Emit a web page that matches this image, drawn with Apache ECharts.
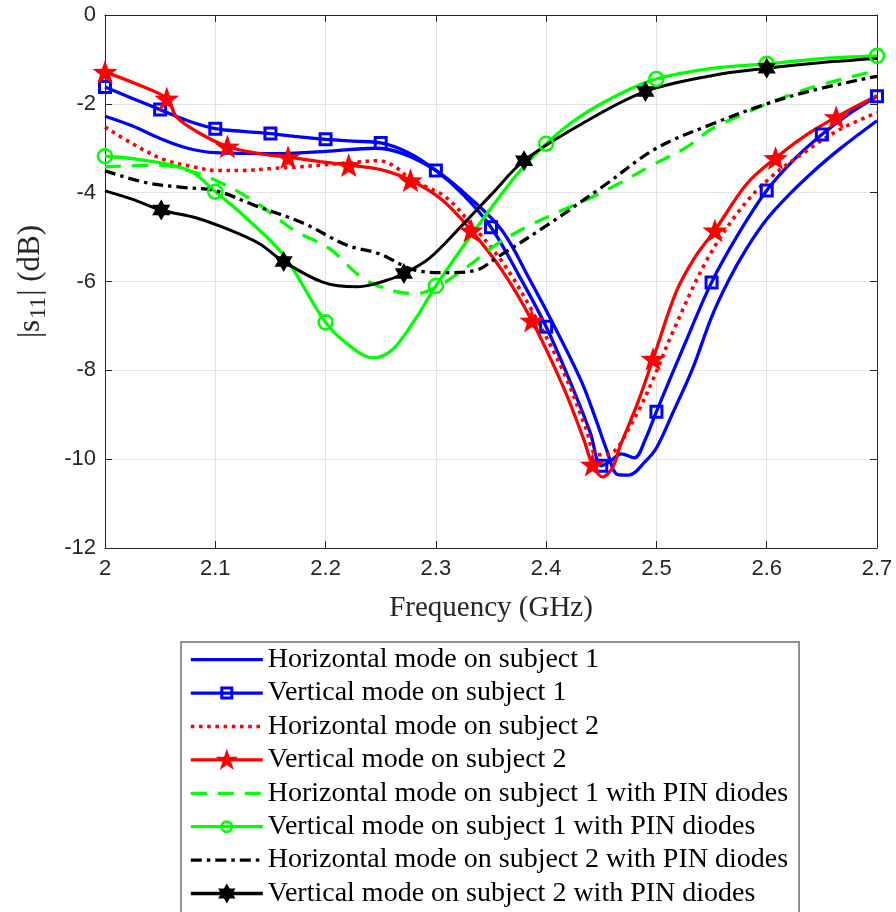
<!DOCTYPE html>
<html>
<head>
<meta charset="utf-8">
<script src="https://cdn.jsdelivr.net/npm/echarts@6/dist/echarts.min.js"></script>
<style>
  html, body { margin: 0; padding: 0; background: #ffffff; }
  #chart { width: 896px; height: 912px; }
</style>
</head>
<body>
<div id="chart"></div>
<script>
// Axis ranges and ticks
const xMin = 2.0, xMax = 2.7, xStep = 0.1;
const yMin = -12, yMax = 0, yStep = 2;

// Series names (legend order)
const names = [
  'Horizontal mode on subject 1',
  'Vertical mode on subject 1',
  'Horizontal mode on subject 2',
  'Vertical mode on subject 2',
  'Horizontal mode on subject 1 with PIN diodes',
  'Vertical mode on subject 1 with PIN diodes',
  'Horizontal mode on subject 2 with PIN diodes',
  'Vertical mode on subject 2 with PIN diodes'
];

// Horizontal mode on subject 1
const freqH1 = [2.00, 2.025, 2.05, 2.075, 2.10, 2.15, 2.20, 2.245, 2.27, 2.30, 2.33, 2.36, 2.385, 2.41, 2.432, 2.445, 2.455, 2.465, 2.475, 2.49, 2.50, 2.515, 2.533, 2.55, 2.566, 2.582, 2.60, 2.62, 2.641, 2.666, 2.70];
const dbH1 = [-2.28, -2.5, -2.78, -3.0, -3.1, -3.12, -3.07, -3.0, -3.12, -3.5, -4.1, -4.85, -5.95, -7.13, -8.25, -9.1, -9.8, -10.35, -10.36, -10.05, -9.75, -8.95, -7.95, -6.8, -5.95, -5.25, -4.6, -4.05, -3.55, -3.02, -2.38];

// Vertical mode on subject 1
const freqV1 = [2.00, 2.025, 2.05, 2.075, 2.10, 2.125, 2.15, 2.175, 2.20, 2.225, 2.25, 2.275, 2.30, 2.325, 2.35, 2.375, 2.40, 2.425, 2.44, 2.45, 2.458, 2.468, 2.48, 2.49, 2.50, 2.525, 2.55, 2.575, 2.60, 2.625, 2.65, 2.675, 2.70];
const dbV1 = [-1.62, -1.88, -2.13, -2.38, -2.56, -2.62, -2.67, -2.74, -2.8, -2.84, -2.88, -3.1, -3.5, -4.05, -4.78, -5.85, -7.02, -8.45, -9.4, -10.15, -10.05, -9.88, -9.97, -9.55, -8.93, -7.45, -6.02, -4.9, -3.95, -3.25, -2.69, -2.22, -1.83];
const marksV1 = [2.00, 2.05, 2.10, 2.15, 2.20, 2.25, 2.30, 2.35, 2.40, 2.45, 2.50, 2.55, 2.60, 2.65, 2.70];

// Horizontal mode on subject 2
const freqH2 = [2.00, 2.025, 2.053, 2.08, 2.101, 2.125, 2.149, 2.175, 2.20, 2.225, 2.248, 2.262, 2.275, 2.29, 2.309, 2.33, 2.36, 2.387, 2.416, 2.436, 2.446, 2.458, 2.466, 2.473, 2.485, 2.497, 2.515, 2.545, 2.575, 2.603, 2.636, 2.666, 2.70];
const dbH2 = [-2.52, -2.9, -3.25, -3.42, -3.5, -3.5, -3.46, -3.42, -3.37, -3.32, -3.28, -3.4, -3.65, -3.85, -4.1, -4.65, -5.55, -6.65, -8.05, -9.3, -9.9, -9.88, -9.7, -9.4, -8.85, -8.2, -7.13, -5.55, -4.41, -3.67, -3.06, -2.58, -2.2];

// Vertical mode on subject 2
const freqV2 = [2.000, 2.028, 2.056, 2.065, 2.085, 2.111, 2.14, 2.166, 2.195, 2.221, 2.25, 2.277, 2.305, 2.332, 2.36, 2.387, 2.416, 2.434, 2.442, 2.451, 2.46, 2.467, 2.482, 2.497, 2.518, 2.535, 2.553, 2.582, 2.608, 2.636, 2.663, 2.70];
const dbV2 = [-1.28, -1.55, -1.88, -2.3, -2.65, -2.96, -3.12, -3.2, -3.3, -3.38, -3.48, -3.72, -4.15, -4.85, -5.75, -6.88, -8.4, -9.55, -10.12, -10.4, -10.2, -9.71, -8.8, -7.74, -6.23, -5.45, -4.85, -3.8, -3.22, -2.7, -2.3, -1.82];
const marksV2 = [2.000, 2.056, 2.111, 2.166, 2.221, 2.277, 2.332, 2.387, 2.442, 2.497, 2.553, 2.608, 2.663];

// Horizontal mode on subject 1 with PIN diodes
const freqH1P = [2.00, 2.05, 2.075, 2.101, 2.135, 2.173, 2.203, 2.234, 2.264, 2.282, 2.303, 2.33, 2.354, 2.38, 2.416, 2.44, 2.47, 2.497, 2.527, 2.551, 2.582, 2.60, 2.641, 2.70];
const dbH1P = [-3.42, -3.38, -3.5, -3.73, -4.19, -4.87, -5.25, -5.93, -6.23, -6.27, -6.09, -5.64, -5.18, -4.8, -4.38, -4.12, -3.74, -3.37, -2.98, -2.55, -2.2, -2.0, -1.63, -1.25];

// Vertical mode on subject 1 with PIN diodes
const freqV1P = [2.00, 2.03, 2.06, 2.08, 2.10, 2.128, 2.162, 2.20, 2.222, 2.243, 2.26, 2.28, 2.30, 2.325, 2.35, 2.375, 2.40, 2.43, 2.465, 2.50, 2.55, 2.60, 2.65, 2.70];
const dbV1P = [-3.18, -3.25, -3.38, -3.55, -3.98, -4.57, -5.41, -6.92, -7.45, -7.72, -7.55, -6.9, -6.1, -5.2, -4.35, -3.55, -2.9, -2.3, -1.8, -1.44, -1.2, -1.1, -0.98, -0.92];
const marksV1P = [2.0, 2.1, 2.2, 2.3, 2.4, 2.5, 2.6, 2.7];

// Horizontal mode on subject 2 with PIN diodes
const freqH2P = [2.00, 2.038, 2.07, 2.101, 2.135, 2.18, 2.219, 2.248, 2.282, 2.309, 2.336, 2.356, 2.401, 2.452, 2.50, 2.551, 2.60, 2.641, 2.70];
const dbH2P = [-3.51, -3.78, -3.88, -3.96, -4.28, -4.69, -5.18, -5.37, -5.75, -5.8, -5.75, -5.45, -4.73, -3.85, -3.0, -2.45, -2.0, -1.7, -1.38];

// Vertical mode on subject 2 with PIN diodes
const freqV2P = [2.00, 2.025, 2.051, 2.083, 2.113, 2.14, 2.162, 2.198, 2.228, 2.252, 2.271, 2.294, 2.324, 2.35, 2.38, 2.431, 2.49, 2.551, 2.60, 2.65, 2.70];
const dbV2P = [-3.96, -4.15, -4.39, -4.57, -4.84, -5.15, -5.55, -6.02, -6.12, -6.0, -5.82, -5.48, -4.73, -4.05, -3.28, -2.47, -1.72, -1.36, -1.2, -1.07, -0.98];
const marksV2P = [2.051, 2.162, 2.271, 2.38, 2.49, 2.60];

// Marker shapes
const pentagram = 'path://M0,-10L2.35,-3.24L9.51,-3.09L3.8,1.24L5.88,8.09L0,4.2L-5.88,8.09L-3.8,1.24L-9.51,-3.09L-2.35,-3.24Z';
const hexagram = 'path://M0,-10L2.89,-5L8.66,-5L5.77,0L8.66,5L2.89,5L0,10L-2.89,5L-8.66,5L-5.77,0L-8.66,-5L-2.89,-5Z';

// Legend icons (72 x 26 box): line plus marker, corner specks pin the box size
const iconFrame = 'M0,0L0.01,0L0,0.01Z M72,26L71.99,26L72,25.99Z ';
const iconLine = 'M0,11.35L72,11.35L72,14.65L0,14.65Z ';
const iconSquare = 'path://' + iconFrame + iconLine + 'M29.5,6.5L42.5,6.5L42.5,19.5L29.5,19.5Z M32.5,9.5L32.5,16.5L39.5,16.5L39.5,9.5Z';
const iconStar = 'path://' + iconFrame + iconLine + 'M36,1.5L38.69,9.79L47.41,9.79L40.36,14.92L43.05,23.21L36,18.08L28.95,23.21L31.64,14.92L24.59,9.79L33.31,9.79Z';
const iconCircle = 'path://' + iconFrame + iconLine + 'M42.5,13A6.5,6.5 0 1 1 29.5,13A6.5,6.5 0 1 1 42.5,13Z M39.8,13A3.8,3.8 0 1 0 32.2,13A3.8,3.8 0 1 0 39.8,13Z';
const iconHex = 'path://' + iconFrame + iconLine + 'M36,3L38.89,8L44.66,8L41.77,13L44.66,18L38.89,18L36,23L33.11,18L27.34,18L30.23,13L27.34,8L33.11,8Z';

const BLUE = '#0000ff', RED = '#ff0000', GREEN = '#00ff00', BLACK = '#000000';
const serif = '"Liberation Serif", "Times New Roman", serif';
const sans = '"Liberation Sans", Arial, sans-serif';

function points(freqs, dbs, marks) {
  return freqs.map((f, i) => {
    const isMark = marks && marks.some(m => Math.abs(m - f) < 1e-6);
    return isMark ? { value: [f, dbs[i]] } : { value: [f, dbs[i]], symbol: 'none' };
  });
}

function lineSeries(name, freqs, dbs, marks, color, width, dash, symbol, symbolSize, itemStyle) {
  return {
    name: name,
    type: 'line',
    data: points(freqs, dbs, marks),
    smooth: 0.35,
    showSymbol: !!symbol,
    showAllSymbol: true,
    symbol: symbol || 'none',
    symbolSize: symbolSize || 0,
    symbolKeepAspect: true,
    lineStyle: { color: color, width: width, type: dash || 'solid', cap: 'butt' },
    itemStyle: itemStyle || { color: color },
    emphasis: { disabled: true },
    clip: true
  };
}

const hollow = (c, w) => ({ color: 'rgba(255,255,255,0)', borderColor: c, borderWidth: w });

const seriesList = [
  lineSeries(names[0], freqH1, dbH1, null, BLUE, 3.3, 'solid'),
  lineSeries(names[1], freqV1, dbV1, marksV1, BLUE, 3.3, 'solid', 'rect', 11, hollow(BLUE, 3)),
  lineSeries(names[2], freqH2, dbH2, null, RED, 3.6, [3.6, 4.6]),
  lineSeries(names[3], freqV2, dbV2, marksV2, RED, 3.3, 'solid', pentagram, 25, { color: RED }),
  lineSeries(names[4], freqH1P, dbH1P, null, GREEN, 3.3, [16, 11]),
  lineSeries(names[5], freqV1P, dbV1P, marksV1P, GREEN, 3.3, 'solid', 'circle', 14, hollow(GREEN, 2.6)),
  lineSeries(names[6], freqH2P, dbH2P, null, BLACK, 3.3, [11, 5, 3.5, 5]),
  lineSeries(names[7], freqV2P, dbV2P, marksV2P, BLACK, 3.0, 'solid', hexagram, 21, { color: BLACK })
];

// Legend entries: plain lines for the unmarked series, drawn icons for the marked ones
const legendIcons = [null, iconSquare, null, iconStar, null, iconCircle, null, iconHex];
const legendColors = [BLUE, BLUE, RED, RED, GREEN, GREEN, BLACK, BLACK];

const chart = echarts.init(document.getElementById('chart'), null, { renderer: 'canvas' });

const axisColor = '#262626';
const gridColor = '#e3e3e3';

chart.setOption({
  animation: false,
  backgroundColor: '#ffffff',
  grid: { left: 105, right: 19, top: 15, bottom: 364, containLabel: false },
  xAxis: [
    {
      type: 'value', min: xMin, max: xMax, interval: xStep,
      position: 'bottom',
      name: 'Frequency (GHz)', nameLocation: 'middle', nameGap: 46,
      nameTextStyle: { fontFamily: serif, fontSize: 29, color: axisColor },
      axisLine: { onZero: false, lineStyle: { color: axisColor, width: 1 } },
      axisTick: { inside: true, length: 7, lineStyle: { color: axisColor } },
      axisLabel: {
        fontFamily: sans, fontSize: 22, color: axisColor, margin: 10,
        formatter: v => String(Math.round(v * 10) / 10)
      },
      splitLine: { show: true, lineStyle: { color: gridColor, width: 1 } }
    },
    {
      type: 'value', min: xMin, max: xMax, interval: xStep,
      position: 'top',
      axisLine: { onZero: false, lineStyle: { color: axisColor, width: 1 } },
      axisTick: { inside: true, length: 7, lineStyle: { color: axisColor } },
      axisLabel: { show: false },
      splitLine: { show: false }
    }
  ],
  yAxis: [
    {
      type: 'value', min: yMin, max: yMax, interval: yStep,
      position: 'left',
      name: '|s{sub|11}| (dB)', nameLocation: 'middle', nameGap: 55, nameRotate: 90,
      nameTextStyle: {
        fontFamily: serif, fontSize: 31, color: axisColor,
        rich: { sub: { fontFamily: serif, fontSize: 23, color: axisColor, padding: [15, 1, 0, 1] } }
      },
      axisLine: { onZero: false, lineStyle: { color: axisColor, width: 1 } },
      axisTick: { inside: true, length: 7, lineStyle: { color: axisColor } },
      axisLabel: { fontFamily: sans, fontSize: 22, color: axisColor, margin: 9 },
      splitLine: { show: true, lineStyle: { color: gridColor, width: 1 } }
    },
    {
      type: 'value', min: yMin, max: yMax, interval: yStep,
      position: 'right',
      axisLine: { onZero: false, lineStyle: { color: axisColor, width: 1 } },
      axisTick: { inside: true, length: 7, lineStyle: { color: axisColor } },
      axisLabel: { show: false },
      splitLine: { show: false }
    }
  ],
  legend: {
    orient: 'vertical',
    left: 181,
    top: 642,
    height: 300,
    padding: [1, 11, 6, 8],
    itemGap: 0,
    itemWidth: 72,
    itemHeight: 26,
    borderColor: '#6f6f6f',
    borderWidth: 1.5,
    backgroundColor: '#ffffff',
    selectedMode: false,
    textStyle: { fontFamily: serif, fontSize: 28, color: '#000000', lineHeight: 33.4 },
    lineStyle: { width: 'inherit' },
    data: names.map((n, i) => legendIcons[i]
      ? { name: n, icon: legendIcons[i], itemStyle: { color: legendColors[i], borderWidth: 0, opacity: 1 } }
      : { name: n, itemStyle: { opacity: 0 } })
  },
  series: seriesList
});
</script>
</body>
</html>
